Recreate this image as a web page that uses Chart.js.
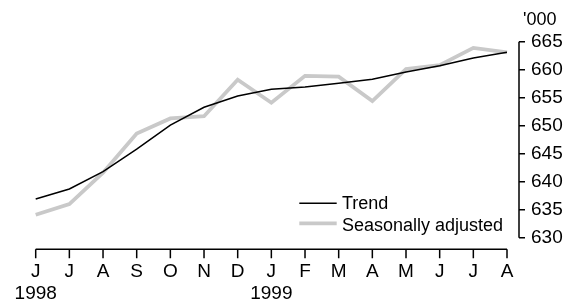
<!DOCTYPE html>
<html><head><meta charset="utf-8">
<script src="https://cdn.jsdelivr.net/npm/chart.js@4/dist/chart.umd.min.js"></script>
<style>html,body{margin:0;padding:0;background:#fff;}#wrap{width:580px;height:305px;position:relative}</style>
</head><body><div id="wrap"><canvas id="c" width="580" height="305"></canvas></div>
<script>
const months = ['J','J','A','S','O','N','D','J','F','M','A','M','J','J','A'];
const years = ['1998','','','','','','','1999','','','','','','',''];
const trend = [636.9,638.7,641.8,645.8,650.1,653.3,655.3,656.5,656.9,657.6,658.3,659.6,660.7,662.1,663.1];
const seasonallyAdjusted = [634.1,636.0,641.6,648.6,651.3,651.7,658.2,654.1,658.9,658.75,654.4,660.1,660.8,663.9,663.1];
const yTicks = [630,635,640,645,650,655,660,665];
const unitLabel = "'000";
const seriesNames = ['Trend','Seasonally adjusted'];

const FONT = '"Liberation Sans", Arial, sans-serif';
const labels = months.map((m,i)=> years[i] ? [m, years[i]] : m);

const axesPlugin = {
  id:'axesLegend',
  afterDraw(chart){
    const ctx = chart.ctx, xs = chart.scales.x, ys = chart.scales.y, ca = chart.chartArea;
    ctx.save();
    ctx.strokeStyle = '#000'; ctx.lineWidth = 1.5;
    const xAxisY = ca.bottom + 11.5;
    ctx.beginPath();
    ctx.moveTo(xs.getPixelForTick(0), xAxisY);
    ctx.lineTo(xs.getPixelForTick(months.length-1), xAxisY);
    months.forEach((m,i)=>{ const px = xs.getPixelForTick(i); ctx.moveTo(px, xAxisY); ctx.lineTo(px, xAxisY+9); });
    const yAxisX = ca.right + 12;
    ctx.moveTo(yAxisX, ys.getPixelForValue(yTicks[yTicks.length-1]));
    ctx.lineTo(yAxisX, ys.getPixelForValue(yTicks[0]));
    yTicks.forEach(v=>{ const py = ys.getPixelForValue(v); ctx.moveTo(yAxisX, py); ctx.lineTo(yAxisX+6, py); });
    ctx.stroke();
    ctx.fillStyle = '#000'; ctx.textAlign = 'left'; ctx.textBaseline = 'alphabetic';
    ctx.font = '18px ' + FONT;
    ctx.fillText(unitLabel, 523, 25);
    // legend
    const items = chart.data.datasets;
    const rows = [{ly:203.3, ty:208.5},{ly:223.3, ty:230.5}];
    items.forEach((ds,i)=>{
      ctx.strokeStyle = ds.borderColor; ctx.lineWidth = ds.borderWidth;
      ctx.beginPath(); ctx.moveTo(299.3, rows[i].ly); ctx.lineTo(336.7, rows[i].ly); ctx.stroke();
      ctx.fillStyle = '#000'; ctx.font = '18px ' + FONT;
      ctx.fillText(ds.label, 342, rows[i].ty);
    });
    ctx.restore();
  }
};

new Chart(document.getElementById('c'), {
  type:'line',
  data:{
    labels: labels,
    datasets:[
      {label: seriesNames[0], data: trend, borderColor:'#000', borderWidth:1.5, pointRadius:0, tension:0, fill:false},
      {label: seriesNames[1], data: seasonallyAdjusted, borderColor:'#c9c9c9', borderWidth:3.8, pointRadius:0, tension:0, fill:false}
    ]
  },
  options:{
    responsive:false, animation:false, devicePixelRatio:1,
    layout:{padding:{top:41.7, left:35.7, right:0, bottom:0}},
    plugins:{legend:{display:false}, tooltip:{enabled:false}, title:{display:false}},
    scales:{
      x:{
        type:'category', offset:false,
        grid:{display:false, drawTicks:false}, border:{display:false},
        ticks:{color:'#000', font:{family:FONT, size:19, lineHeight:1.15}, padding:23.5, maxRotation:0, autoSkip:false},
        afterFit(s){ s.height = 305 - 237.7; s.paddingLeft = 0; s.paddingRight = 0; }
      },
      y:{
        type:'linear', position:'right', min:630, max:665,
        grid:{display:false, drawTicks:false}, border:{display:false},
        ticks:{color:'#000', stepSize:5, font:{family:FONT, size:19}, padding:24},
        afterBuildTicks(s){ s.ticks = yTicks.map(v=>({value:v})); },
        afterFit(s){ s.width = 73; s.paddingTop = 0; s.paddingBottom = 0; }
      }
    }
  },
  plugins:[axesPlugin]
});
</script></body></html>
